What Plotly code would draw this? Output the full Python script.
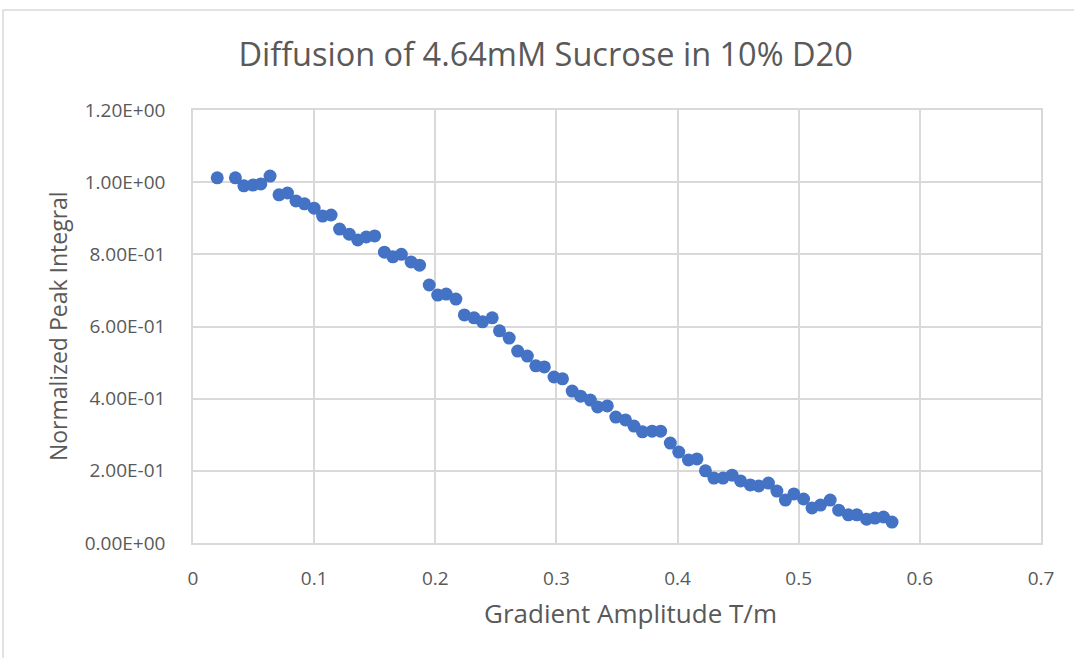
import plotly.graph_objects as go

# Data
gradient = [0.020, 0.035, 0.042, 0.0495, 0.056, 0.0636, 0.071, 0.078, 0.085, 0.092,
            0.100, 0.107, 0.114, 0.121, 0.129, 0.136, 0.143, 0.150, 0.158, 0.165,
            0.172, 0.180, 0.187, 0.195, 0.202, 0.209, 0.217, 0.224, 0.232, 0.239,
            0.247, 0.253, 0.261, 0.268, 0.276, 0.283, 0.290, 0.298, 0.305, 0.313,
            0.320, 0.328, 0.334, 0.342, 0.349, 0.357, 0.364, 0.371, 0.379, 0.386,
            0.394, 0.401, 0.409, 0.416, 0.423, 0.430, 0.4375, 0.445, 0.452, 0.460,
            0.467, 0.475, 0.482, 0.489, 0.496, 0.504, 0.511, 0.518, 0.526, 0.533,
            0.541, 0.548, 0.556, 0.563, 0.570, 0.577]
integral = [1.012, 1.012, 0.990, 0.992, 0.995, 1.017, 0.965, 0.970, 0.948, 0.940,
            0.928, 0.906, 0.909, 0.870, 0.856, 0.840, 0.848, 0.851, 0.806, 0.793,
            0.800, 0.779, 0.770, 0.715, 0.687, 0.690, 0.676, 0.632, 0.624, 0.613,
            0.624, 0.588, 0.568, 0.532, 0.518, 0.491, 0.488, 0.460, 0.455, 0.421,
            0.407, 0.396, 0.377, 0.380, 0.349, 0.341, 0.324, 0.308, 0.310, 0.310,
            0.277, 0.252, 0.230, 0.233, 0.200, 0.180, 0.180, 0.188, 0.172, 0.161,
            0.158, 0.166, 0.144, 0.119, 0.136, 0.122, 0.097, 0.105, 0.119, 0.091,
            0.078, 0.078, 0.066, 0.069, 0.072, 0.058]

y_tickvals = [0.0, 0.2, 0.4, 0.6, 0.8, 1.0, 1.2]
y_ticktext = ["0.00E+00", "2.00E-01", "4.00E-01", "6.00E-01", "8.00E-01", "1.00E+00", "1.20E+00"]
x_tickvals = [0, 0.1, 0.2, 0.3, 0.4, 0.5, 0.6, 0.7]
x_ticktext = ["0", "0.1", "0.2", "0.3", "0.4", "0.5", "0.6", "0.7"]

FONT = "'Open Sans', sans-serif"
TXT = "#595959"
GRID = "#d9d9d9"

fig = go.Figure()
fig.add_trace(go.Scatter(
    x=gradient, y=integral, mode="markers",
    marker=dict(color="#4472C4", size=13, line=dict(width=0)),
    showlegend=False,
))

fig.update_layout(
    width=1074, height=658,
    margin=dict(l=193, r=33, t=110, b=115),
    paper_bgcolor="white", plot_bgcolor="white",
    font=dict(family=FONT, color=TXT),
    title=dict(text="Diffusion of 4.64mM Sucrose in 10% D20",
               font=dict(family=FONT, size=32.5, color=TXT),
               x=0.508, xref="container", xanchor="center",
               y=0.917, yref="container", yanchor="middle"),
    xaxis=dict(range=[0, 0.7], tickvals=x_tickvals, ticktext=x_ticktext,
               showgrid=True, gridcolor=GRID, gridwidth=1.5, zeroline=False,
               showline=True, linecolor=GRID, linewidth=1.5, mirror=True,
               ticks="", tickfont=dict(size=19, color=TXT), ticklabelstandoff=17),
    yaxis=dict(range=[0, 1.2], tickvals=y_tickvals, ticktext=y_ticktext,
               showgrid=True, gridcolor=GRID, gridwidth=1.5, zeroline=False,
               showline=True, linecolor=GRID, linewidth=1.5, mirror=True,
               ticks="", tickfont=dict(size=19, color=TXT), ticklabelstandoff=22),
    annotations=[
        dict(text="Gradient Amplitude T/m", xref="paper", yref="paper",
             x=0.5165, y=-0.1617, xanchor="center", yanchor="middle",
             showarrow=False, font=dict(size=26, color=TXT)),
        dict(text="Normalized Peak Integral", xref="paper", yref="paper",
             x=-0.1592, y=0.501, xanchor="center", yanchor="middle",
             textangle=-90, showarrow=False, font=dict(size=23, color=TXT)),
    ],
    shapes=[dict(type="rect", xref="paper", yref="paper",
                 x0=-0.224, x1=1.2, y0=-0.5, y1=1.231,
                 line=dict(color=GRID, width=1.5), fillcolor="rgba(0,0,0,0)",
                 layer="below")],
)

fig.write_html("out.html")
